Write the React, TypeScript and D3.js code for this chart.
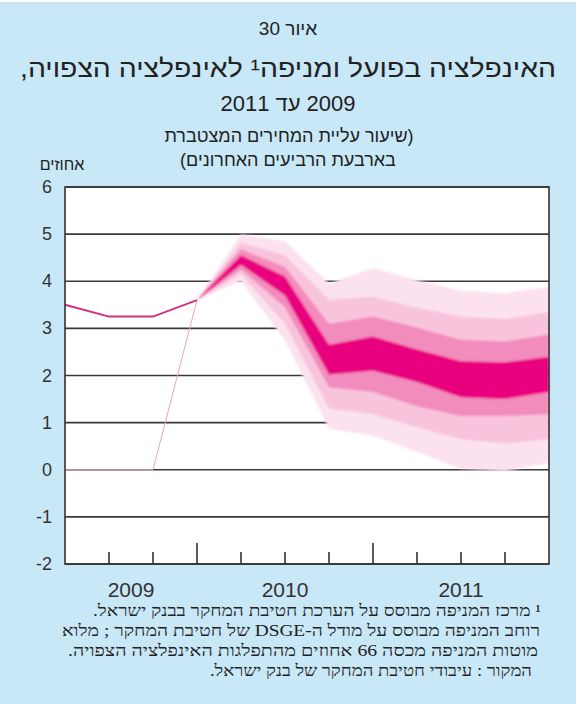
import React from "react";
import * as d3 from "d3";

// ---- Data ----
const quarters = [
  "2009-03", "2009-06", "2009-09", "2009-12",
  "2010-03", "2010-06", "2010-09", "2010-12",
  "2011-03", "2011-06", "2011-09", "2011-12",
];
const years = [2009, 2010, 2011];
const yTicks = [6, 5, 4, 3, 2, 1, 0, -1, -2];

// actual inflation (first 4 quarters)
const actual = [3.5, 3.25, 3.25, 3.6];
// thin base line of the fan series before it starts
const fanBase = [0, 0, 0, 3.6];

// fan bands start at quarter index 3
const fanStart = 3;
const darkHi = [3.6, 4.55, 4.1, 2.65, 2.83, 2.55, 2.3, 2.28, 2.4];
const darkLo = [3.6, 4.35, 3.7, 2.02, 2.1, 1.86, 1.54, 1.5, 1.65];
const medHi = [3.6, 4.68, 4.3, 3.1, 3.25, 3.02, 2.76, 2.72, 2.87];
const medLo = [3.6, 4.25, 3.45, 1.75, 1.65, 1.35, 1.14, 1.14, 1.18];
const lightHi = [3.6, 4.82, 4.55, 3.6, 3.67, 3.44, 3.25, 3.2, 3.35];
const lightLo = [3.6, 4.15, 3.1, 1.3, 1.18, 0.9, 0.65, 0.55, 0.65];
const palestHi = [3.6, 5.0, 4.85, 3.95, 4.28, 4.02, 3.8, 3.75, 3.88];
const palestLo = [3.6, 4.0, 2.75, 0.87, 0.72, 0.38, 0.02, -0.03, 0.15];

const titleTop = "איור 30";
const titleMain = "האינפלציה בפועל ומניפה¹ לאינפלציה הצפויה,";
const titleYears = "2009 עד 2011";
const subtitle1 = "(שיעור עליית המחירים המצטברת";
const subtitle2 = "בארבעת הרביעים האחרונים)";
const unitLabel = "אחוזים";
const notes = [
  "¹ מרכז המניפה מבוסס על הערכת חטיבת המחקר בבנק ישראל.",
  "רוחב המניפה מבוסס על מודל ה-DSGE של חטיבת המחקר ; מלוא",
  "מוטות המניפה מכסה 66 אחוזים מהתפלגות האינפלציה הצפויה.",
  "המקור : עיבודי חטיבת המחקר של בנק ישראל.",
];

// ---- Layout ----
const W = 576;
const H = 704;
const plot = { left: 65, right: 549, top: 187, bottom: 564 };
const noteRight = [541, 540, 538, 532];
const noteWidth = [448, 478, 470, 322];

export default function App() {
  const x = d3.scaleLinear().domain([0, quarters.length - 1]).range([plot.left, plot.right]);
  const y = d3.scaleLinear().domain([-2, 6]).range([plot.bottom, plot.top]);

  const bandArea = (hi: number[], lo: number[]) =>
    d3
      .area<number>()
      .x((_, i) => x(fanStart + i))
      .y0((_, i) => y(lo[i]))
      .y1((_, i) => y(hi[i]))(hi) || "";

  const line = d3
    .line<number>()
    .x((_, i) => x(i))
    .y((d) => y(d));

  const sans = "'Liberation Sans', Arial, 'DejaVu Sans', sans-serif";
  const serif = "'Liberation Serif', 'Times New Roman', 'DejaVu Serif', serif";

  const tickIdx = quarters.map((_, i) => i).filter((i) => i > 0 && i < quarters.length - 1);

  const yearLabels = years.map((yr) => {
    const idx = quarters.map((q, i) => (q.startsWith(String(yr)) ? i : -1)).filter((i) => i >= 0);
    const start = Math.max(0, idx[0] - 1);
    const end = idx[idx.length - 1];
    return { yr, cx: x((start + end) / 2) };
  });

  return (
    <svg
      width={W}
      height={H}
      style={{ position: "absolute", left: 0, top: 0, display: "block" }}
    >
      <defs>
        <filter id="soft" x="-5%" y="-5%" width="110%" height="110%">
          <feGaussianBlur stdDeviation={0.8} />
        </filter>
      </defs>
      <rect x={0} y={0} width={W} height={H} fill="#c8e7f7" />
      <rect x={0} y={0} width={W} height={2} fill="#ffffff" />

      {/* titles */}
      <g fill="#222" textAnchor="middle" direction="rtl" fontFamily={sans}>
        <text x={288} y={35} fontSize={19}>{titleTop}</text>
        <text x={288} y={77} fontSize={25} textLength={536} lengthAdjust="spacingAndGlyphs">
          {titleMain}
        </text>
        <text x={288} y={111} fontSize={22}>{titleYears}</text>
        <text x={289} y={142} fontSize={18}>{subtitle1}</text>
        <text x={288} y={166} fontSize={18}>{subtitle2}</text>
        <text x={62} y={170} fontSize={16}>{unitLabel}</text>
      </g>

      {/* plot background */}
      <rect
        x={plot.left}
        y={plot.top}
        width={plot.right - plot.left}
        height={plot.bottom - plot.top}
        fill="#ffffff"
      />

      {/* gridlines */}
      {yTicks.map((t) => (
        <line
          key={t}
          x1={plot.left}
          x2={plot.right}
          y1={y(t)}
          y2={y(t)}
          stroke="#3a3a3a"
          strokeWidth={1.6}
        />
      ))}

      {/* thin base line */}
      <path d={line(fanBase) || ""} fill="none" stroke="#e6a6bf" strokeWidth={1} />

      {/* fan */}
      <g filter="url(#soft)">
        <path d={bandArea(palestHi, palestLo)} fill="#fbe2ee" />
        <path d={bandArea(lightHi, lightLo)} fill="#f8c4dc" />
        <path d={bandArea(medHi, medLo)} fill="#f28cbd" />
        <path d={bandArea(darkHi, darkLo)} fill="#e8007f" />
      </g>

      {/* actual line */}
      <path d={line(actual) || ""} fill="none" stroke="#d42f7f" strokeWidth={2} />

      {/* frame */}
      <rect
        x={plot.left}
        y={plot.top}
        width={plot.right - plot.left}
        height={plot.bottom - plot.top}
        fill="none"
        stroke="#333"
        strokeWidth={1.6}
      />

      {/* x ticks */}
      {tickIdx.map((i) => {
        const major = quarters[i].endsWith("-12");
        return (
          <line
            key={i}
            x1={x(i)}
            x2={x(i)}
            y1={plot.bottom}
            y2={plot.bottom - (major ? 21 : 12)}
            stroke="#333"
            strokeWidth={1.6}
          />
        );
      })}

      {/* y tick labels */}
      <g fontFamily={sans} fontSize={18} fill="#333" textAnchor="end">
        {yTicks.map((t) => (
          <text key={t} x={52} y={y(t) + 6}>
            {t}
          </text>
        ))}
      </g>

      {/* year labels */}
      <g fontFamily={sans} fontSize={21} fill="#333" textAnchor="middle">
        {yearLabels.map((d) => (
          <text key={d.yr} x={d.cx} y={597}>
            {d.yr}
          </text>
        ))}
      </g>

      {/* notes */}
      <g fontFamily={serif} fontSize={16} fill="#222" textAnchor="start" direction="rtl">
        {notes.map((n, i) => (
          <text
            key={i}
            x={noteRight[i]}
            y={616 + i * 20}
            textLength={noteWidth[i]}
            lengthAdjust="spacingAndGlyphs"
          >
            {n}
          </text>
        ))}
      </g>
    </svg>
  );
}
